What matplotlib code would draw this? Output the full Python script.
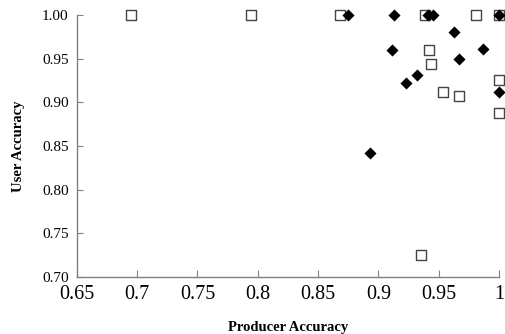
import matplotlib
matplotlib.use("Agg")
import matplotlib.pyplot as plt
from matplotlib.ticker import FixedLocator, FormatStrFormatter

# open squares
sq_producer = [0.695, 0.794, 0.868, 0.939, 0.981, 1.000, 0.942, 0.944, 1.000, 0.954, 0.967, 1.000, 0.935]
sq_user = [1.000, 1.000, 1.000, 1.000, 1.000, 1.000, 0.960, 0.944, 0.925, 0.912, 0.907, 0.888, 0.725]

# filled diamonds
dm_producer = [0.875, 0.913, 0.941, 0.945, 1.000, 0.963, 0.911, 0.987, 0.967, 0.932, 0.923, 1.000, 0.893]
dm_user = [1.000, 1.000, 1.000, 1.000, 1.000, 0.980, 0.960, 0.961, 0.950, 0.931, 0.922, 0.912, 0.842]

x_ticks = [0.65, 0.7, 0.75, 0.8, 0.85, 0.9, 0.95, 1.0]
x_labels = ["0.65", "0.7", "0.75", "0.8", "0.85", "0.9", "0.95", "1"]
y_ticks = [0.70, 0.75, 0.80, 0.85, 0.90, 0.95, 1.00]

plt.rcParams.update({"font.family": ["Liberation Serif", "DejaVu Serif"]})

fig = plt.figure(figsize=(5.06, 3.34), dpi=100)
ax = fig.add_axes([0.152, 0.171, 0.834, 0.784])

ax.scatter(sq_producer, sq_user, marker="s", s=42, facecolor="white",
           edgecolor="#444444", linewidths=1.0, clip_on=False, zorder=3)
ax.scatter(dm_producer, dm_user, marker="D", s=38, color="black",
           linewidths=0, clip_on=False, zorder=4)

ax.set_xlim(0.65, 1.0)
ax.set_ylim(0.70, 1.00)
ax.set_xticks(x_ticks)
ax.set_xticklabels(x_labels)
ax.yaxis.set_major_locator(FixedLocator(y_ticks))
ax.yaxis.set_major_formatter(FormatStrFormatter("%.2f"))

for side in ["top", "right"]:
    ax.spines[side].set_visible(False)
for side in ["left", "bottom"]:
    ax.spines[side].set_color("#808080")
    ax.spines[side].set_linewidth(1.0)

ax.tick_params(axis="x", direction="in", length=5, color="#808080",
               labelsize=14.5, pad=6)
ax.tick_params(axis="y", direction="in", length=4, color="#808080",
               labelsize=11, pad=6)

ax.set_xlabel("Producer Accuracy", fontweight="bold", fontsize=10.5, labelpad=12)
ax.set_ylabel("User Accuracy", fontweight="bold", fontsize=10.5, labelpad=12)

fig.savefig("out.png", dpi=100)
